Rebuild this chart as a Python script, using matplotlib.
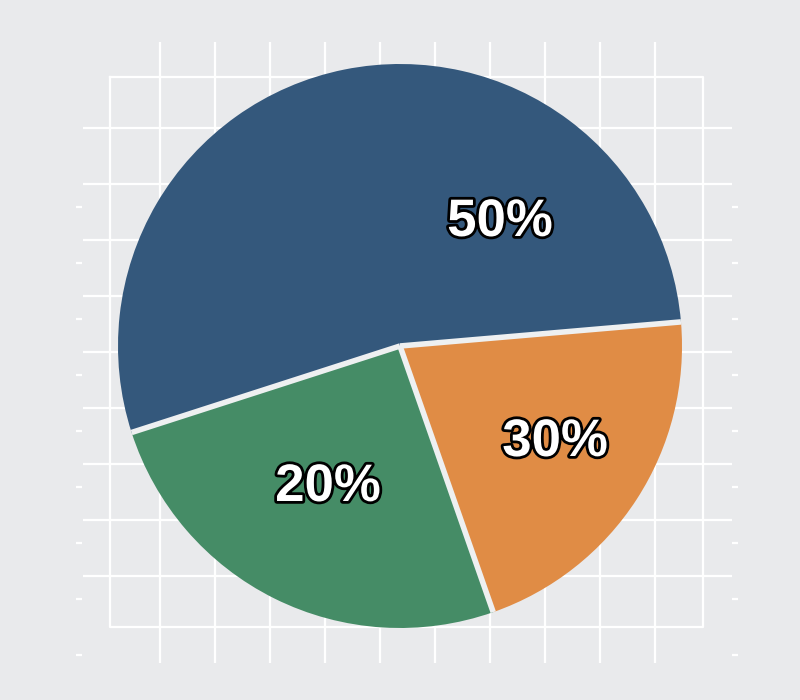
import matplotlib
matplotlib.use("Agg")
from matplotlib import pyplot as plt
import matplotlib.patheffects as pe
import numpy as np

# Slice shares as drawn (blue, green, orange, counter-clockwise) and printed labels
shares = [53.6, 25.4, 21.0]
labels = ["50%", "20%", "30%"]
colors = ["#34587c", "#458c66", "#e08c45"]
# where each label sits (pixel coords from the top-left corner)
label_pos = [(500, 222), (328, 487), (555, 442)]

H = 700
bg = "#e9eaec"

fig = plt.figure(figsize=(8, 7), dpi=100)
fig.patch.set_facecolor(bg)
ax = fig.add_axes([0, 0, 1, 1])
ax.set_facecolor(bg)

# Background grid (image pixel coordinates, flipped to y-up)
grid_kw = dict(color="white", linewidth=1.6, zorder=1)
for x in 160 + 55 * np.arange(10):
    ax.vlines(x, H - 663, H - 42, **grid_kw)
for y in 128 + 56 * np.arange(9):
    ax.hlines(H - y, 83, 732, **grid_kw)
# inner box
ax.plot([110, 703, 703, 110, 110], [H - 77, H - 77, H - 627, H - 627, H - 77], **grid_kw)
# small tick dashes on both sides
for y in 207 + 56 * np.arange(9):
    ax.hlines(H - y, 76, 82, color="white", linewidth=1.6, zorder=1)
    ax.hlines(H - y, 732, 738, color="white", linewidth=1.6, zorder=1)

wedges, _ = ax.pie(shares, colors=colors, startangle=4.9, counterclock=True,
                   center=(400, H - 346), radius=282, frame=True,
                   wedgeprops=dict(linewidth=0, zorder=3))

# light separators between slices (no outer rim)
for w in wedges:
    cx, cy = w.center
    a = np.deg2rad(w.theta1)
    ax.plot([cx, cx + w.r * np.cos(a)], [cy, cy + w.r * np.sin(a)],
            color="#eef0f1", linewidth=4, solid_capstyle="butt", zorder=4)

for lab, (x, y) in zip(labels, label_pos):
    t = ax.text(x, H - y, lab, ha="center", va="center", fontsize=38,
                fontweight="bold", family="Liberation Sans", color="white", zorder=5)
    t.set_path_effects([pe.Stroke(linewidth=4, foreground="black"), pe.Normal()])

ax.set_xlim(0, 800)
ax.set_ylim(0, H)
ax.set_aspect("equal")
ax.axis("off")

fig.savefig("out.png", dpi=100, facecolor=bg)
